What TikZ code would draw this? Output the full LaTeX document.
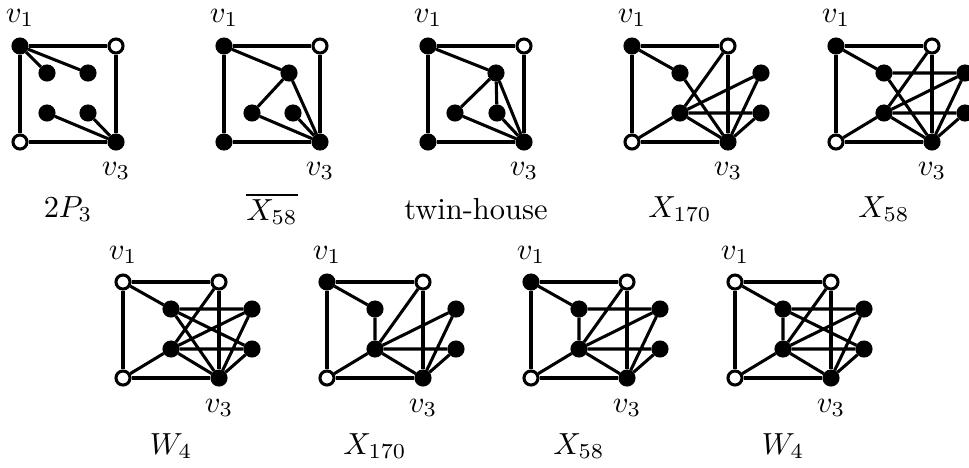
\documentclass[tikz,border=0pt]{standalone}
\begin{document}
\begin{tikzpicture}[x=0.328pt,y=-0.328pt,line width=1pt,
  vtx/.style={circle,draw,fill=black,inner sep=0pt,minimum size=4.6pt},
  ovtx/.style={vtx,fill=white}]
  \useasboundingbox (0,0) rectangle (969,467);
  % 2P_3
  \begin{scope}[shift={(20,46)},name prefix=a-]
    \node[vtx] (v1) at (0,0) {};
    \node[ovtx] (v2) at (96,0) {};
    \node[vtx] (v3) at (96,96) {};
    \node[ovtx] (v4) at (0,96) {};
    \node[vtx] (p) at (27,27) {};
    \node[vtx] (q) at (68,27) {};
    \node[vtx] (r) at (27,67) {};
    \node[vtx] (s) at (68,67) {};
    \draw (v1) -- (v2) -- (v3) -- (v4) -- (v1);
    \draw (v1) -- (p) (v1) -- (q) (v3) -- (r) (v3) -- (s);
    \node (l1) at (0,-28) {$v_1$};
    \node (l3) at (96,125) {$v_3$};
    \node (nm) at (48,163) {$2P_3$};
  \end{scope}
  % complement of X_58
  \begin{scope}[shift={(224,46)},name prefix=b-]
    \node[vtx] (v1) at (0,0) {};
    \node[ovtx] (v2) at (96,0) {};
    \node[vtx] (v3) at (96,96) {};
    \node[vtx] (v4) at (0,96) {};
    \node[vtx] (p) at (65,27) {};
    \node[vtx] (r) at (28,67) {};
    \node[vtx] (s) at (69,67) {};
    \draw (v1) -- (v2) -- (v3) -- (v4) -- (v1);
    \draw (v1) -- (p) (p) -- (r) (p) -- (v3) (r) -- (v3) (s) -- (v3);
    \node (l1) at (0,-28) {$v_1$};
    \node (l3) at (96,125) {$v_3$};
    \node (nm) at (48,163) {$\overline{X_{58}}$};
  \end{scope}
  % twin-house
  \begin{scope}[shift={(428,46)},name prefix=c-]
    \node[vtx] (v1) at (0,0) {};
    \node[ovtx] (v2) at (96,0) {};
    \node[vtx] (v3) at (96,96) {};
    \node[vtx] (v4) at (0,96) {};
    \node[vtx] (p) at (68,27) {};
    \node[vtx] (r) at (27,67) {};
    \node[vtx] (s) at (69,67) {};
    \draw (v1) -- (v2) -- (v3) -- (v4) -- (v1);
    \draw (v1) -- (p) (p) -- (r) (p) -- (s) (p) -- (v3) (r) -- (v3) (s) -- (v3);
    \node (l1) at (0,-28) {$v_1$};
    \node (l3) at (96,125) {$v_3$};
    \node (nm) at (48,163) {twin-house};
  \end{scope}
  % X_170
  \begin{scope}[shift={(632,46)},name prefix=d-]
    \node[vtx] (v1) at (0,0) {};
    \node[ovtx] (v2) at (96,0) {};
    \node[vtx] (v3) at (96,96) {};
    \node[ovtx] (v4) at (0,96) {};
    \node[vtx] (p) at (48,27) {};
    \node[vtx] (r) at (48,67) {};
    \node[vtx] (q) at (129,27) {};
    \node[vtx] (s) at (129,67) {};
    \draw (v1) -- (v2) -- (v3) -- (v4) -- (v1);
    \draw (v1) -- (p) (p) -- (v3) (v2) -- (r) (v4) -- (r) (r) -- (q) (r) -- (s)
      (r) -- (v3) (q) -- (v3) (s) -- (v3);
    \node (l1) at (0,-28) {$v_1$};
    \node (l3) at (96,125) {$v_3$};
    \node (nm) at (48,163) {$X_{170}$};
  \end{scope}
  % X_58
  \begin{scope}[shift={(836,46)},name prefix=e-]
    \node[vtx] (v1) at (0,0) {};
    \node[ovtx] (v2) at (96,0) {};
    \node[vtx] (v3) at (96,96) {};
    \node[ovtx] (v4) at (0,96) {};
    \node[vtx] (p) at (48,27) {};
    \node[vtx] (r) at (48,67) {};
    \node[vtx] (q) at (129,27) {};
    \node[vtx] (s) at (129,67) {};
    \draw (v1) -- (v2) -- (v3) -- (v4) -- (v1);
    \draw (v1) -- (p) (p) -- (q) (p) -- (v3) (v2) -- (r) (v4) -- (r) (r) -- (q)
      (r) -- (s) (r) -- (v3) (q) -- (v3) (s) -- (v3);
    \node (l1) at (0,-28) {$v_1$};
    \node (l3) at (96,125) {$v_3$};
    \node (nm) at (48,163) {$X_{58}$};
  \end{scope}
  % W_4
  \begin{scope}[shift={(123,282)},name prefix=f-]
    \node[ovtx] (v1) at (0,0) {};
    \node[ovtx] (v2) at (96,0) {};
    \node[vtx] (v3) at (96,96) {};
    \node[ovtx] (v4) at (0,96) {};
    \node[vtx] (p) at (48,27) {};
    \node[vtx] (r) at (48,67) {};
    \node[vtx] (q) at (129,27) {};
    \node[vtx] (s) at (129,67) {};
    \draw (v1) -- (v2) -- (v3) -- (v4) -- (v1);
    \draw (v1) -- (p) (p) -- (q) (p) -- (s) (p) -- (v3) (v2) -- (r) (v4) -- (r)
      (r) -- (q) (r) -- (s) (r) -- (v3) (q) -- (v3) (s) -- (v3);
    \node (l1) at (0,-27) {$v_1$};
    \node (l3) at (96,126) {$v_3$};
    \node (nm) at (48,164) {$W_4$};
  \end{scope}
  % X_170
  \begin{scope}[shift={(327,282)},name prefix=g-]
    \node[vtx] (v1) at (0,0) {};
    \node[ovtx] (v2) at (96,0) {};
    \node[vtx] (v3) at (96,96) {};
    \node[ovtx] (v4) at (0,96) {};
    \node[vtx] (p) at (48,27) {};
    \node[vtx] (r) at (48,67) {};
    \node[vtx] (q) at (129,27) {};
    \node[vtx] (s) at (129,67) {};
    \draw (v1) -- (v2) -- (v3) -- (v4) -- (v1);
    \draw (v1) -- (p) (p) -- (r) (v2) -- (r) (v4) -- (r) (r) -- (q) (r) -- (s)
      (r) -- (v3) (q) -- (v3) (s) -- (v3);
    \node (l1) at (0,-27) {$v_1$};
    \node (l3) at (96,126) {$v_3$};
    \node (nm) at (48,164) {$X_{170}$};
  \end{scope}
  % X_58
  \begin{scope}[shift={(531,282)},name prefix=h-]
    \node[vtx] (v1) at (0,0) {};
    \node[ovtx] (v2) at (96,0) {};
    \node[vtx] (v3) at (96,96) {};
    \node[ovtx] (v4) at (0,96) {};
    \node[vtx] (p) at (48,27) {};
    \node[vtx] (r) at (48,67) {};
    \node[vtx] (q) at (129,27) {};
    \node[vtx] (s) at (129,67) {};
    \draw (v1) -- (v2) -- (v3) -- (v4) -- (v1);
    \draw (v1) -- (p) (p) -- (r) (p) -- (q) (v2) -- (r) (v4) -- (r) (r) -- (q)
      (r) -- (s) (r) -- (v3) (q) -- (v3) (s) -- (v3);
    \node (l1) at (0,-27) {$v_1$};
    \node (l3) at (96,126) {$v_3$};
    \node (nm) at (48,164) {$X_{58}$};
  \end{scope}
  % W_4
  \begin{scope}[shift={(735,282)},name prefix=k-]
    \node[ovtx] (v1) at (0,0) {};
    \node[ovtx] (v2) at (96,0) {};
    \node[vtx] (v3) at (96,96) {};
    \node[ovtx] (v4) at (0,96) {};
    \node[vtx] (p) at (48,27) {};
    \node[vtx] (r) at (48,67) {};
    \node[vtx] (q) at (129,27) {};
    \node[vtx] (s) at (129,67) {};
    \draw (v1) -- (v2) -- (v3) -- (v4) -- (v1);
    \draw (v1) -- (p) (p) -- (r) (p) -- (q) (p) -- (s) (v2) -- (r) (v4) -- (r)
      (r) -- (q) (r) -- (s) (r) -- (v3) (q) -- (v3) (s) -- (v3);
    \node (l1) at (0,-27) {$v_1$};
    \node (l3) at (96,126) {$v_3$};
    \node (nm) at (48,164) {$W_4$};
  \end{scope}
\end{tikzpicture}
\end{document}
